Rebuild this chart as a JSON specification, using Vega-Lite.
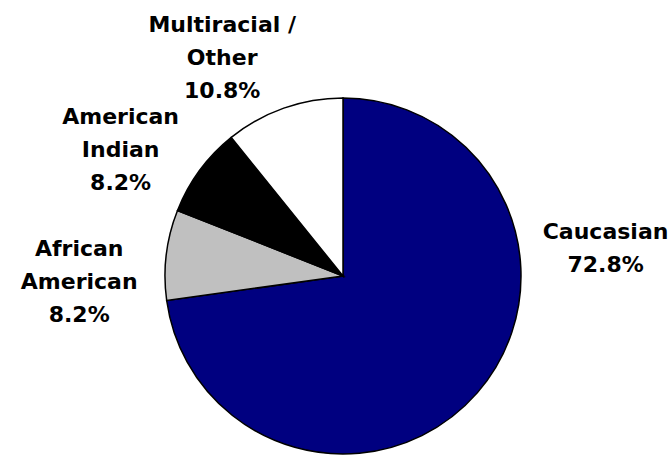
{
  "$schema": "https://vega.github.io/schema/vega-lite/v6.json",
  "autosize": "none",
  "width": 656,
  "height": 358,
  "padding": {"left": 15, "top": 97, "right": 0, "bottom": 0},
  "background": "white",
  "config": {"view": {"stroke": null}},
  "data": {
    "values": [
      {"group": "Caucasian", "value": 72.8, "rank": 1, "label": "Caucasian\n72.8%"},
      {"group": "African American", "value": 8.2, "rank": 2, "label": "African\nAmerican\n8.2%"},
      {"group": "American Indian", "value": 8.2, "rank": 3, "label": "American\nIndian\n8.2%"},
      {"group": "Multiracial / Other", "value": 10.8, "rank": 4, "label": "Multiracial /\nOther\n10.8%"}
    ]
  },
  "layer": [
    {
      "mark": {"type": "arc", "outerRadius": 178, "stroke": "#000000", "strokeWidth": 1.5},
      "encoding": {
        "theta": {"field": "value", "type": "quantitative", "stack": true},
        "order": {"field": "rank", "type": "quantitative"},
        "color": {
          "field": "group",
          "type": "nominal",
          "scale": {
            "domain": ["Caucasian", "African American", "American Indian", "Multiracial / Other"],
            "range": ["#000080", "#C0C0C0", "#000000", "#FFFFFF"]
          },
          "legend": null
        }
      }
    },
    {
      "mark": {
        "type": "text",
        "radius": 264,
        "dy": -16.5,
        "font": "DejaVu Sans",
        "fontWeight": "bold",
        "fontSize": 22,
        "lineHeight": 33,
        "lineBreak": "\n",
        "align": "center",
        "baseline": "middle",
        "color": "#000000"
      },
      "encoding": {
        "theta": {
          "field": "value",
          "type": "quantitative",
          "stack": true,
          "scale": {"type": "pow", "exponent": 0.8, "domain": [0, 100], "range": [4.375, 9.2218]}
        },
        "order": {"field": "value", "type": "quantitative", "sort": "ascending"},
        "text": {"field": "label", "type": "nominal"}
      }
    }
  ],
  "resolve": {"scale": {"theta": "independent"}}
}
